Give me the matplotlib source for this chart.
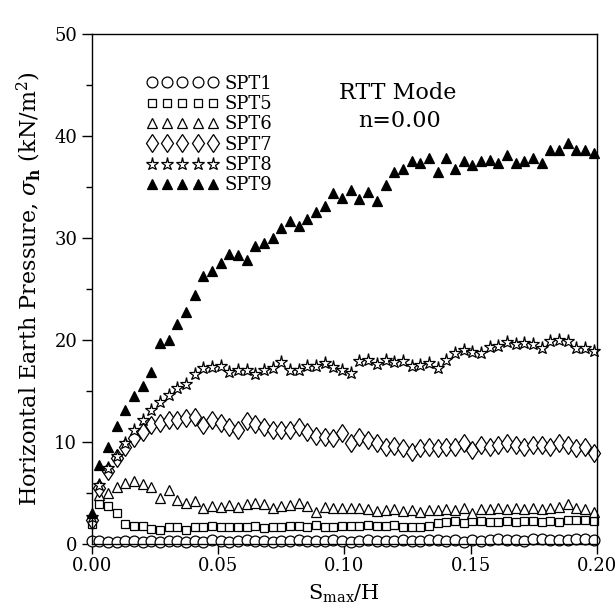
import matplotlib
matplotlib.use("Agg")
import matplotlib.pyplot as plt
from matplotlib.ticker import MultipleLocator

plt.rcParams['font.family'] = ['DejaVu Serif']
plt.rcParams['mathtext.fontset'] = 'dejavuserif'

# displacement ratio S_max/H
x = [0.0, 0.0030, 0.0064, 0.0099, 0.0133, 0.0167, 0.0202, 0.0236, 0.0270, 0.0305,
     0.0339, 0.0373, 0.0408, 0.0442, 0.0476, 0.0511, 0.0545, 0.0579, 0.0614, 0.0648,
     0.0682, 0.0717, 0.0751, 0.0785, 0.0820, 0.0854, 0.0888, 0.0923, 0.0957, 0.0991,
     0.1026, 0.1060, 0.1094, 0.1129, 0.1163, 0.1197, 0.1232, 0.1266, 0.1300, 0.1335,
     0.1369, 0.1403, 0.1438, 0.1472, 0.1506, 0.1541, 0.1575, 0.1609, 0.1644, 0.1678,
     0.1712, 0.1747, 0.1781, 0.1815, 0.1850, 0.1884, 0.1918, 0.1953, 0.1987]

spt1 = [0.3, 0.3, 0.2, 0.2, 0.3, 0.3, 0.2, 0.3, 0.2, 0.3, 0.3, 0.2, 0.3, 0.2, 0.4, 0.3,
        0.2, 0.3, 0.4, 0.3, 0.3, 0.2, 0.3, 0.3, 0.4, 0.3, 0.3, 0.3, 0.4, 0.3, 0.2, 0.3,
        0.4, 0.3, 0.3, 0.3, 0.4, 0.3, 0.3, 0.4, 0.4, 0.3, 0.4, 0.2, 0.4, 0.3, 0.4, 0.5,
        0.4, 0.4, 0.3, 0.5, 0.5, 0.4, 0.4, 0.4, 0.5, 0.5, 0.4]

spt5 = [2.0, 3.9, 3.7, 3.0, 2.0, 1.75, 1.75, 1.5, 1.4, 1.7, 1.7, 1.4, 1.7, 1.7, 1.75,
        1.7, 1.65, 1.7, 1.7, 1.8, 1.6, 1.7, 1.7, 1.8, 1.8, 1.7, 1.9, 1.7, 1.7, 1.8, 1.8,
        1.8, 1.9, 1.8, 1.8, 1.9, 1.7, 1.7, 1.7, 1.8, 2.1, 2.2, 2.3, 2.1, 2.3, 2.3, 2.2,
        2.2, 2.3, 2.2, 2.3, 2.3, 2.2, 2.3, 2.2, 2.4, 2.4, 2.4, 2.3]

spt6 = [2.8, 4.8, 5.0, 5.6, 5.95, 6.2, 5.9, 5.6, 4.5, 5.3, 4.3, 4.05, 4.25, 3.5, 3.7,
        3.65, 3.8, 3.65, 3.9, 4.05, 3.9, 3.5, 3.7, 3.8, 4.0, 3.7, 3.1, 3.65, 3.5, 3.5,
        3.5, 3.5, 3.4, 3.2, 3.3, 3.4, 3.2, 3.3, 3.1, 3.3, 3.3, 3.4, 3.3, 3.5, 3.0, 3.4,
        3.4, 3.5, 3.4, 3.5, 3.4, 3.5, 3.4, 3.5, 3.6, 3.9, 3.5, 3.4, 3.1]

spt7 = [2.4, 5.5, 7.2, 8.4, 9.5, 10.4, 11.0, 11.7, 11.9, 12.2, 12.2, 12.3, 12.4, 11.7,
        12.2, 11.9, 11.5, 11.2, 12.1, 11.8, 11.5, 11.2, 11.2, 11.2, 11.5, 11.0, 10.6,
        10.5, 10.4, 10.85, 9.9, 10.5, 10.2, 9.9, 9.55, 9.6, 9.4, 9.05, 9.4, 9.55, 9.4,
        9.55, 9.55, 9.9, 9.2, 9.7, 9.55, 9.7, 9.9, 9.7, 9.55, 9.7, 9.7, 9.55, 9.9, 9.7,
        9.4, 9.55, 8.9]

spt8 = [2.6, 5.8, 7.4, 8.6, 9.9, 11.2, 12.2, 13.1, 13.95, 14.6, 15.3, 15.7, 16.7, 17.2,
        17.3, 17.45, 16.9, 17.1, 17.05, 16.7, 17.05, 17.2, 17.8, 17.05, 17.05, 17.4,
        17.45, 17.7, 17.3, 17.1, 16.75, 17.9, 18.0, 17.6, 18.0, 17.8, 17.9, 17.45, 17.55,
        17.7, 17.2, 18.0, 18.7, 19.0, 18.85, 18.75, 19.3, 19.4, 19.75, 19.6, 19.7, 19.6,
        19.2, 19.85, 20.0, 19.85, 19.2, 19.2, 18.95]

spt9 = [3.0, 7.7, 9.5, 11.6, 13.1, 14.5, 15.5, 16.9, 19.7, 20.0, 21.6, 22.7, 24.4, 26.3,
        26.8, 27.5, 28.4, 28.3, 27.8, 29.2, 29.5, 30.0, 31.0, 31.7, 31.2, 31.8, 32.5,
        33.1, 34.4, 33.9, 34.7, 33.8, 34.5, 33.6, 35.2, 36.5, 36.7, 37.5, 37.3, 37.8,
        36.5, 37.8, 36.7, 37.5, 37.1, 37.5, 37.6, 37.3, 38.1, 37.3, 37.5, 37.8, 37.3,
        38.6, 38.6, 39.3, 38.6, 38.6, 38.3]

labels = ["SPT1", "SPT5", "SPT6", "SPT7", "SPT8", "SPT9"]
series = [spt1, spt5, spt6, spt7, spt8, spt9]
markers = ["o", "s", "^", "d", "*", "^"]
sizes = [7.8, 6.4, 7.2, 9.5, 9.5, 7.8]
faces = ["white", "white", "white", "white", "white", "black"]

fig = plt.figure(figsize=(6.16, 6.14), dpi=100)
ax = fig.add_axes([0.149, 0.114, 0.820, 0.831])

for y, lab, m, s, fc in zip(series, labels, markers, sizes, faces):
    ax.plot(x, y, linestyle="none", marker=m, markersize=s, markerfacecolor=fc,
            markeredgecolor="black", markeredgewidth=0.9, label=lab, clip_on=False)

ax.set_xlim(0, 0.20)
ax.set_ylim(0, 50)
ax.xaxis.set_major_locator(MultipleLocator(0.05))
ax.yaxis.set_major_locator(MultipleLocator(10))
ax.yaxis.set_minor_locator(MultipleLocator(5))
ax.xaxis.set_major_formatter(matplotlib.ticker.FormatStrFormatter('%.2f'))
ax.tick_params(axis='both', which='major', direction='out', length=7, width=1,
               labelsize=13, top=False, right=False)
ax.tick_params(axis='x', which='major', pad=2)
ax.tick_params(axis='y', which='minor', direction='out', length=4, width=1)
for sp in ax.spines.values():
    sp.set_linewidth(1.0)

ax.set_xlabel(r"S$_\mathrm{max}$/H", fontsize=15, labelpad=6)
ax.set_ylabel(r"Horizontal Earth Pressure, $\sigma_\mathbf{h}$ (kN/m$^2$)",
              fontsize=16, labelpad=8)

ax.legend(loc='upper left', bbox_to_anchor=(0.108, 0.92), frameon=False,
          numpoints=5, handlelength=4.0, handletextpad=0.35, labelspacing=0.13,
          borderaxespad=0, borderpad=0, fontsize=13)

ax.text(0.606, 0.884, "RTT Mode", transform=ax.transAxes, ha='center', va='center',
        fontsize=16)
ax.text(0.61, 0.829, "n=0.00", transform=ax.transAxes, ha='center', va='center',
        fontsize=16)

fig.savefig("out.png", dpi=100)
